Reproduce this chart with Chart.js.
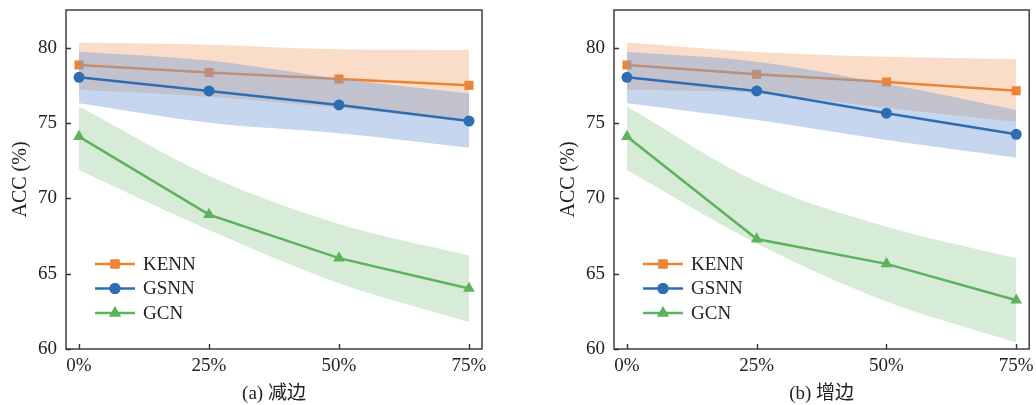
<!DOCTYPE html>
<html>
<head>
<meta charset="utf-8">
<script src="https://cdn.jsdelivr.net/npm/chart.js@4/dist/chart.umd.min.js"></script>
<style>
  html, body { margin: 0; padding: 0; background: #fff; }
  body { width: 1036px; height: 405px; position: relative; overflow: hidden; }
  canvas { position: absolute; top: 0; }
  #chartA { left: 0; }
  #chartB { left: 548px; }
</style>
</head>
<body>
<canvas id="chartA" width="518" height="405"></canvas>
<canvas id="chartB" width="488" height="405"></canvas>
<script>
// Edge perturbation ratio (x positions, in %)
const ratios = [0, 25, 50, 75];
const yTicks = [60, 65, 70, 75, 80];
const seriesNames = ['KENN', 'GSNN', 'GCN'];

// (a) 减边 — removing edges: mean accuracy and band bounds
const removeKENN      = [78.85, 78.35, 77.92, 77.50];
const removeKENNHigh  = [80.35, 80.20, 79.90, 79.85];
const removeKENNLow   = [77.20, 76.75, 76.00, 75.15];
const removeGSNN      = [78.03, 77.13, 76.20, 75.13];
const removeGSNNHigh  = [79.73, 79.15, 77.95, 76.95];
const removeGSNNLow   = [76.31, 75.02, 74.32, 73.35];
const removeGCN       = [74.10, 68.92, 66.03, 64.02];
const removeGCNHigh   = [76.09, 71.50, 68.30, 66.20];
const removeGCNLow    = [71.88, 67.90, 64.37, 61.80];

// (b) 增边 — adding edges
const addKENN      = [78.85, 78.23, 77.72, 77.14];
const addKENNHigh  = [80.35, 79.72, 79.40, 79.25];
const addKENNLow   = [77.20, 76.97, 76.00, 75.09];
const addGSNN      = [78.03, 77.13, 75.65, 74.25];
const addGSNNHigh  = [79.73, 79.07, 77.60, 75.87];
const addGSNNLow   = [76.31, 75.20, 73.87, 72.70];
const addGCN       = [74.10, 67.30, 65.65, 63.24];
const addGCNHigh   = [76.09, 71.10, 68.12, 66.03];
const addGCNLow    = [71.88, 67.00, 63.15, 60.43];

const COLORS = {
  KENN: { line: '#EE8334', fill: 'rgba(238,131,52,0.27)',  style: 'rect',     radius: 6.4 },
  GSNN: { line: '#2D6DB4', fill: 'rgba(120,160,215,0.43)', style: 'circle',   radius: 5.5 },
  GCN:  { line: '#5DB25D', fill: 'rgba(93,178,93,0.25)',   style: 'triangle', radius: 6.8 }
};

const SERIF = "'Liberation Serif', 'Times New Roman', 'Noto Sans CJK SC', serif";
const TEXT = '#222';

const pts = arr => arr.map((v, i) => ({ x: ratios[i], y: v }));

function bandSets(name, high, low, baseOrder) {
  const c = COLORS[name];
  return [
    {
      label: name + '-high', data: pts(high), fill: '+1',
      backgroundColor: c.fill, borderColor: 'rgba(0,0,0,0)', borderWidth: 0,
      pointRadius: 0, cubicInterpolationMode: 'monotone', order: baseOrder + 2
    },
    {
      label: name + '-low', data: pts(low), fill: false,
      borderColor: 'rgba(0,0,0,0)', borderWidth: 0,
      pointRadius: 0, cubicInterpolationMode: 'monotone', order: baseOrder + 1
    }
  ];
}

function lineSet(name, values, baseOrder) {
  const c = COLORS[name];
  return {
    label: name, data: pts(values), fill: false,
    borderColor: c.line, backgroundColor: c.line, borderWidth: 2.5,
    pointStyle: c.style, pointRadius: c.radius, pointHoverRadius: c.radius,
    pointBackgroundColor: c.line, pointBorderColor: c.line, pointBorderWidth: 0,
    tension: 0, order: baseOrder
  };
}

// Box frame, inward tick marks and the in-plot legend
const framePlugin = {
  id: 'frameAndLegend',
  afterDraw(chart) {
    const { ctx, chartArea: a, scales } = chart;
    ctx.save();
    ctx.strokeStyle = '#333';
    ctx.lineWidth = 1.4;
    ctx.strokeRect(a.left, a.top, a.right - a.left, a.bottom - a.top);
    ctx.beginPath();
    scales.x.ticks.forEach(t => {
      const px = Math.round(scales.x.getPixelForValue(t.value)) + 0.5;
      ctx.moveTo(px, a.bottom); ctx.lineTo(px, a.bottom - 5);
    });
    scales.y.ticks.forEach(t => {
      const py = Math.round(scales.y.getPixelForValue(t.value)) + 0.5;
      ctx.moveTo(a.left, py); ctx.lineTo(a.left + 5, py);
    });
    ctx.stroke();

    // legend
    const x0 = a.left + 29, x1 = a.left + 69, tx = a.left + 77;
    seriesNames.forEach((name, i) => {
      const c = COLORS[name];
      const y = a.top + 254 + i * 24.5;
      ctx.strokeStyle = c.line;
      ctx.lineWidth = 2.5;
      ctx.beginPath(); ctx.moveTo(x0, y); ctx.lineTo(x1, y); ctx.stroke();
      ctx.fillStyle = c.line;
      Chart.helpers.drawPoint(ctx, { pointStyle: c.style, radius: c.radius, borderWidth: 0 }, (x0 + x1) / 2, y);
      ctx.fill();
      ctx.fillStyle = TEXT;
      ctx.font = '19px ' + SERIF;
      ctx.textAlign = 'left';
      ctx.textBaseline = 'middle';
      ctx.fillText(name, tx, y + 1);
    });
    ctx.restore();
  }
};

function makeChart(id, caption, rightPad, sets) {
  const datasets = [
    ...bandSets('KENN', sets.kHigh, sets.kLow, 8),
    lineSet('KENN', sets.k, 8),
    ...bandSets('GSNN', sets.gHigh, sets.gLow, 5),
    lineSet('GSNN', sets.g, 5),
    ...bandSets('GCN', sets.cHigh, sets.cLow, 2),
    lineSet('GCN', sets.c, 2)
  ];
  return new Chart(document.getElementById(id), {
    type: 'line',
    data: { datasets },
    options: {
      responsive: false,
      animation: false,
      devicePixelRatio: 1,
      layout: { padding: { top: 10, right: rightPad, left: 0, bottom: 0 } },
      plugins: { legend: { display: false }, tooltip: { enabled: false } },
      scales: {
        x: {
          type: 'linear', min: -2.5, max: 77.5,
          afterBuildTicks: s => { s.ticks = ratios.map(v => ({ value: v })); },
          afterFit: s => { s.height = 56; s.paddingLeft = 0; s.paddingRight = 0; },
          grid: { display: false, drawTicks: false },
          border: { display: false },
          ticks: {
            padding: 6, color: TEXT, font: { family: SERIF, size: 19 },
            callback: v => v + '%', maxRotation: 0
          },
          title: {
            display: true, text: caption, color: TEXT,
            font: { family: SERIF, size: 19 }, padding: { top: 0, bottom: 0 }
          }
        },
        y: {
          type: 'linear', min: 60, max: 82.5,
          afterBuildTicks: s => { s.ticks = yTicks.map(v => ({ value: v })); },
          afterFit: s => { s.width = 66; s.paddingTop = 0; s.paddingBottom = 0; },
          grid: { display: false, drawTicks: false },
          border: { display: false },
          ticks: { padding: 9, color: TEXT, font: { family: SERIF, size: 19 } },
          title: {
            display: true, text: 'ACC (%)', color: TEXT,
            font: { family: SERIF, size: 20 }, padding: { top: 9, bottom: 0 }
          }
        }
      }
    },
    plugins: [framePlugin]
  });
}

makeChart('chartA', '(a) 减边', 36, {
  k: removeKENN, kHigh: removeKENNHigh, kLow: removeKENNLow,
  g: removeGSNN, gHigh: removeGSNNHigh, gLow: removeGSNNLow,
  c: removeGCN, cHigh: removeGCNHigh, cLow: removeGCNLow
});

makeChart('chartB', '(b) 增边', 6, {
  k: addKENN, kHigh: addKENNHigh, kLow: addKENNLow,
  g: addGSNN, gHigh: addGSNNHigh, gLow: addGSNNLow,
  c: addGCN, cHigh: addGCNHigh, cLow: addGCNLow
});
</script>
</body>
</html>
